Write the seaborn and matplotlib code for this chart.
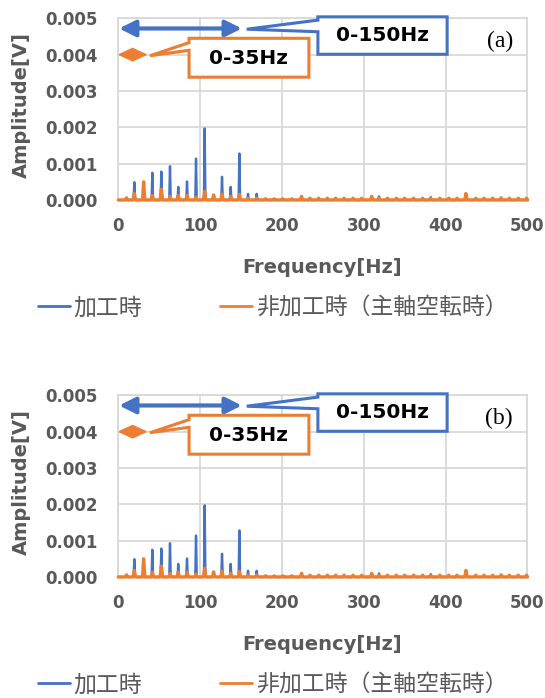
import numpy as np
import pandas as pd
import matplotlib
matplotlib.use("Agg")
import matplotlib.pyplot as plt
import seaborn as sns
from matplotlib.patches import Polygon
from matplotlib.lines import Line2D

# ---------------- data ----------------
panel_labels = ["(a)", "(b)"]
series_names = ["加工時", "非加工時（主軸空転時）"]
x_ticks = [0, 100, 200, 300, 400, 500]
y_ticks = [0.000, 0.001, 0.002, 0.003, 0.004, 0.005]

blue_freq = [19.6, 41.6, 52.6, 63.2, 73.3, 84.0, 95.0, 105.6, 126.8, 137.4, 148.0,
             158.6, 169.2, 180.0, 190.5, 201.0, 212.0, 224.0, 234.4, 245.0, 255.5,
             265.7, 276.0, 287.0, 297.5, 309.8, 318.7, 329.0, 340.0, 350.0, 361.0,
             372.0, 382.0, 393.0, 404.0, 414.0, 425.0, 437.0, 447.0, 457.7, 468.0,
             478.0, 489.0, 499.0]
blue_amp = [0.00049, 0.00075, 0.00078, 0.00093, 0.00036, 0.00051, 0.00114, 0.00197,
            0.00064, 0.00036, 0.00128, 0.00017, 0.00017, 0.00004, 0.00003, 0.00003,
            0.00003, 0.00004, 0.00003, 0.00003, 0.00003, 0.00003, 0.00003, 0.00003,
            0.00003, 0.00004, 0.00010, 0.00003, 0.00003, 0.00003, 0.00003, 0.00003,
            0.00008, 0.00003, 0.00003, 0.00003, 0.00004, 0.00003, 0.00003, 0.00003,
            0.00003, 0.00003, 0.00003, 0.00003]

orange_freq = [10.0, 19.6, 31.0, 41.6, 52.6, 63.2, 73.3, 84.0, 95.0, 105.6, 116.5,
               126.8, 137.4, 148.0, 158.6, 169.2, 180.0, 190.5, 201.0, 212.0, 224.0,
               234.4, 245.0, 255.5, 265.7, 276.0, 287.0, 297.5, 309.8, 318.7, 329.0,
               340.0, 350.0, 361.0, 372.0, 382.0, 393.0, 404.0, 414.0, 425.0, 437.0,
               447.0, 457.7, 468.0, 478.0, 489.0, 499.0]
orange_amp = [0.00006, 0.00018, 0.00050, 0.00013, 0.00030, 0.00010, 0.00013, 0.00013,
              0.00008, 0.00024, 0.00014, 0.00016, 0.00010, 0.00015, 0.00005, 0.00005,
              0.00003, 0.00003, 0.00003, 0.00003, 0.00010, 0.00005, 0.00005, 0.00005,
              0.00005, 0.00005, 0.00005, 0.00005, 0.00010, 0.00005, 0.00005, 0.00005,
              0.00005, 0.00005, 0.00005, 0.00004, 0.00005, 0.00005, 0.00005, 0.00018,
              0.00005, 0.00005, 0.00005, 0.00006, 0.00005, 0.00005, 0.00005]

BLUE = "#4472C4"
ORANGE = "#ED7D31"
GRAY = "#595959"
GRID = "#D9D9D9"

sns.set_theme(style="white")
plt.rcParams['font.family'] = ['DejaVu Sans', 'Noto Sans CJK JP']


def spike_frame(freqs, amps, half_width):
    xs, ys = [0.0], [0.0]
    for f, a in sorted(zip(freqs, amps)):
        xs += [f - half_width, f, f + half_width]
        ys += [0.0, a, 0.0]
    xs.append(500.0)
    ys.append(0.0)
    return pd.DataFrame({"freq": xs, "amp": ys})


blue_df = spike_frame(blue_freq, blue_amp, 0.9)
orange_df = spike_frame(orange_freq, orange_amp, 1.4)

fig = plt.figure(figsize=(5.45, 6.98), dpi=100)
W, H = 545.0, 698.0

panel_offsets = [0, 377]
for label, off in zip(panel_labels, panel_offsets):
    left, right = 118.3, 527.3
    top, bottom = 18.3 + off, 200.0 + off
    ax = fig.add_axes([left / W, 1 - bottom / H, (right - left) / W, (bottom - top) / H])

    sns.lineplot(data=blue_df, x="freq", y="amp", ax=ax, color=BLUE, lw=1.7,
                 sort=False, estimator=None, zorder=3)
    sns.lineplot(data=orange_df, x="freq", y="amp", ax=ax, color=ORANGE, lw=2.4,
                 sort=False, estimator=None, zorder=4, clip_on=False)

    ax.set_xlim(0, 500)
    ax.set_ylim(0, 0.005)
    ax.set_xticks(x_ticks)
    ax.set_yticks(y_ticks)
    ax.set_xticklabels([str(t) for t in x_ticks])
    ax.set_yticklabels([f"{t:.3f}" for t in y_ticks])
    ax.grid(True, color=GRID, lw=1.3)
    ax.set_axisbelow(True)
    for s in ax.spines.values():
        s.set_color(GRID)
        s.set_linewidth(1.3)
    ax.tick_params(axis="both", length=0, labelsize=12, labelcolor=GRAY)
    ax.tick_params(axis="x", pad=12)
    ax.tick_params(axis="y", pad=15)
    for t in ax.get_xticklabels() + ax.get_yticklabels():
        t.set_fontweight("bold")

    ax.set_xlabel("Frequency[Hz]", fontsize=14, fontweight="bold", color=GRAY)
    ax.set_ylabel("Amplitude[V]", fontsize=14, fontweight="bold", color=GRAY)
    ax.xaxis.set_label_coords(0.498, -0.374)
    ax.xaxis.label.set_va("center")
    ax.yaxis.set_label_coords(-0.236, 0.52)
    ax.yaxis.label.set_va("center")

    # panel label
    ax.text(0.965, 0.875, label, transform=ax.transAxes, ha="right", va="center",
            fontsize=17, family="Liberation Serif", color="black", zorder=6)

    # blue double arrow 0-150 Hz
    ax.annotate("", xy=(151, 0.00472), xytext=(1.0, 0.00472),
                arrowprops=dict(arrowstyle="<|-|>,head_length=0.7,head_width=0.35",
                                color=BLUE, lw=3, mutation_scale=14,
                                shrinkA=0, shrinkB=0), zorder=6)
    # orange double arrow 0-35 Hz (heads meet -> diamond)
    diamond = [(1.0, 0.00400), (17.5, 0.00417), (34.0, 0.00400), (17.5, 0.00383)]
    ax.add_patch(Polygon(diamond, closed=True, facecolor=ORANGE, edgecolor=ORANGE,
                         lw=1, zorder=6, clip_on=False))

    # blue callout
    blue_box = [(244, 0.00504), (402, 0.00504), (402, 0.00401), (244, 0.00401),
                (244, 0.00463), (157, 0.00470), (244, 0.00495)]
    ax.add_patch(Polygon(blue_box, closed=True, facecolor="white", edgecolor=BLUE,
                         lw=2.2, clip_on=False, zorder=7, joinstyle="miter"))
    ax.text(323, 0.00452, "0-150Hz", ha="center", va="center", fontsize=14.5,
            fontweight="bold", color="black", zorder=8)

    # orange callout
    orange_box = [(86.5, 0.00445), (233, 0.00445), (233, 0.00338), (86.5, 0.00338),
                  (86.5, 0.00412), (38.8, 0.00397), (86.5, 0.00433)]
    ax.add_patch(Polygon(orange_box, closed=True, facecolor="white", edgecolor=ORANGE,
                         lw=2.2, clip_on=False, zorder=7, joinstyle="miter"))
    ax.text(159.5, 0.00390, "0-35Hz", ha="center", va="center", fontsize=14.5,
            fontweight="bold", color="black", zorder=8)

    # legend
    handles = [Line2D([], [], color=BLUE, lw=2), Line2D([], [], color=ORANGE, lw=2)]
    fig.legend(handles, series_names, loc="center left",
               bbox_to_anchor=(38 / W, 1 - (308 + off) / H), ncol=2, frameon=False,
               prop={"family": ["Noto Sans CJK JP"], "size": 16.5},
               labelcolor=GRAY, handlelength=1.4, handletextpad=0.15,
               columnspacing=3.4, borderpad=0, borderaxespad=0)

fig.savefig("out.png", dpi=100)
